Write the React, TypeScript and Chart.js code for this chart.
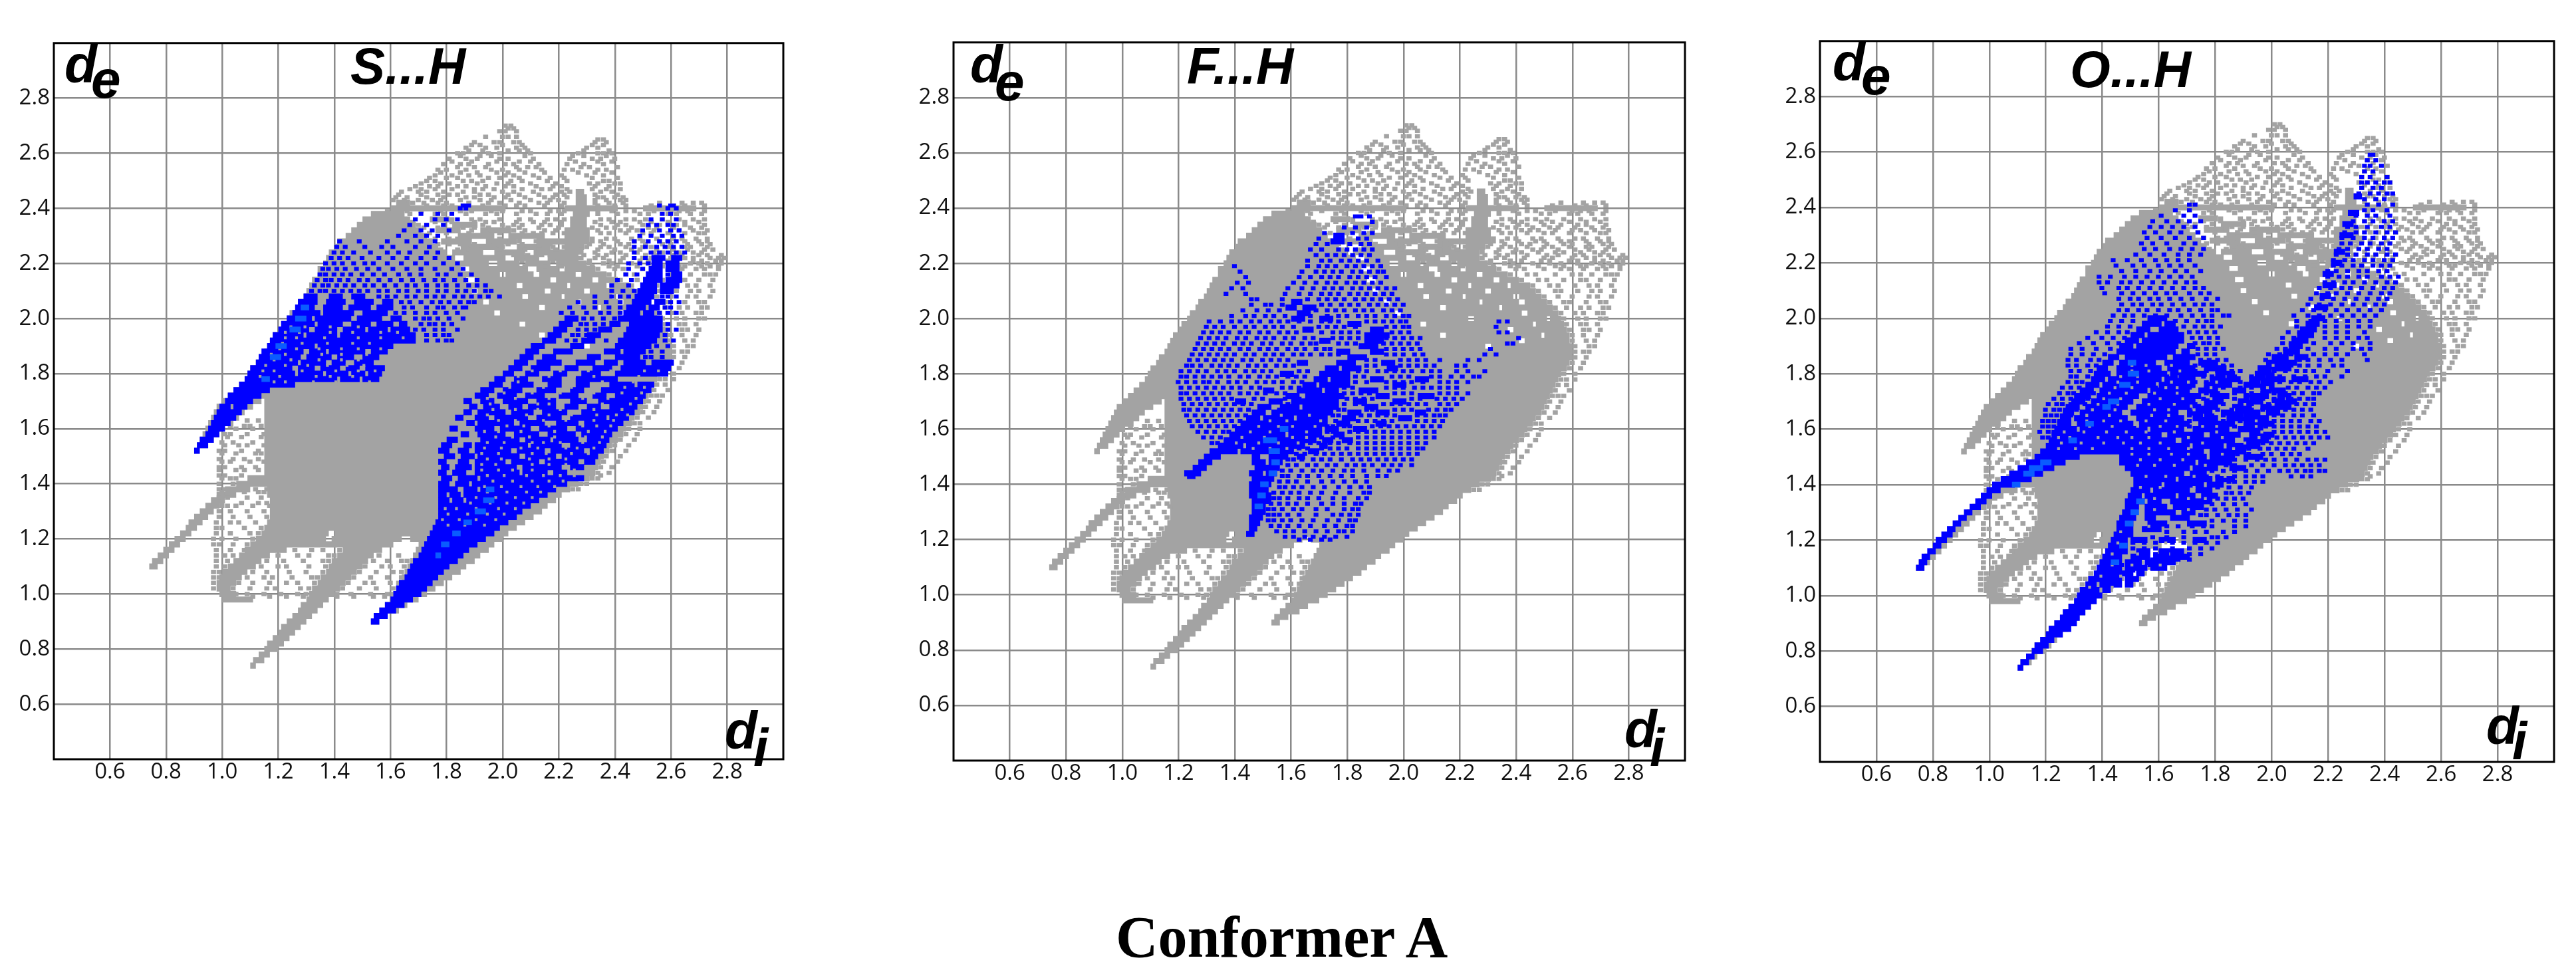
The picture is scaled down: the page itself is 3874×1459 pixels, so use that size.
import { useEffect, useRef } from "react";
import { Chart, registerables } from "chart.js";

Chart.register(...registerables);

// All distances in hundredths of an angstrom (bin size 0.01).
// Band rows: [de, diStart, diEnd, diStart, diEnd, ...]; cell rows: [de, di, di, ...]
const tickValues = [0.6, 0.8, 1.0, 1.2, 1.4, 1.6, 1.8, 2.0, 2.2, 2.4, 2.6, 2.8];
const panelTitles = ["S...H", "F...H", "O...H"];

const grayBands = [
  [74, 110, 111], [76, 111, 114], [78, 113, 116], [80, 115, 119], [82, 116, 121], [84, 118, 123],
  [86, 120, 125], [88, 121, 127], [90, 123, 129, 153, 155], [92, 125, 131, 154, 158],
  [94, 127, 133, 156, 162], [96, 128, 135, 158, 165], [98, 100, 110, 130, 137, 160, 169],
  [100, 99, 104, 131, 139, 161, 172], [102, 98, 102, 132, 141, 162, 175], [104, 98, 104, 134, 143, 163, 178],
  [106, 99, 106, 135, 145, 164, 181], [108, 100, 108, 137, 147, 165, 184],
  [110, 74, 76, 102, 111, 138, 149, 166, 186], [112, 75, 78, 104, 113, 139, 151, 167, 189],
  [114, 77, 80, 106, 116, 141, 153, 168, 191], [116, 79, 82, 108, 122, 143, 156, 169, 194],
  [118, 81, 84, 110, 160, 170, 196], [120, 83, 86, 112, 136, 139, 163, 167, 199],
  [122, 85, 88, 114, 137, 140, 201], [124, 87, 90, 115, 204], [126, 88, 92, 116, 207], [128, 90, 94, 117, 210],
  [130, 92, 96, 117, 213], [132, 94, 98, 117, 215], [134, 96, 100, 117, 218], [136, 98, 104, 116, 220],
  [138, 101, 109, 116, 223], [140, 105, 226], [142, 109, 230], [144, 115, 232], [146, 115, 233],
  [148, 115, 234], [150, 115, 235], [152, 90, 91, 115, 237], [154, 91, 94, 115, 238], [156, 92, 96, 115, 240],
  [158, 93, 98, 115, 242], [160, 94, 100, 115, 243], [162, 95, 103, 115, 245], [164, 96, 105, 115, 246],
  [166, 97, 107, 115, 248], [168, 98, 110, 115, 249], [170, 100, 113, 115, 250], [172, 102, 251],
  [174, 104, 252], [176, 106, 253], [178, 108, 254], [180, 109, 255], [182, 110, 257], [184, 112, 258],
  [186, 113, 259], [188, 115, 259], [190, 116, 228, 231, 259], [192, 117, 240, 243, 258],
  [194, 118, 212, 215, 248, 250, 258], [196, 120, 236, 239, 257], [198, 121, 205, 208, 245, 247, 256],
  [200, 123, 222, 225, 250, 252, 255], [202, 124, 196, 199, 241, 244, 254], [204, 126, 212, 215, 233, 235, 252],
  [206, 127, 192, 195, 226, 228, 240, 243, 250], [208, 129, 206, 209, 220, 222, 238, 241, 248],
  [210, 130, 188, 191, 214, 217, 228, 231, 246], [212, 131, 204, 207, 222, 224, 236, 238, 244],
  [214, 132, 186, 190, 216, 219, 231, 234, 240], [216, 134, 198, 201, 210, 213, 225, 228, 236],
  [218, 134, 184, 188, 208, 212, 219, 222, 232], [220, 136, 194, 198, 205, 208, 216, 219, 229],
  [222, 137, 182, 186, 200, 204, 212, 216, 226], [224, 138, 179, 182, 192, 197, 207, 211, 226],
  [226, 140, 176, 185, 199, 205, 216, 222, 228], [228, 141, 174, 178, 188, 194, 204, 212, 230],
  [230, 144, 172, 184, 196, 202, 214, 222, 230], [232, 146, 170, 176, 184, 192, 202, 222, 230],
  [234, 148, 168, 182, 190, 224, 229], [236, 150, 166, 174, 180, 224, 229],
  [238, 153, 164, 225, 230], [240, 160, 200, 222, 240, 250, 268], [242, 162, 166, 226, 229],
  [244, 226, 229], [246, 226, 228],
];

const grayCells = [
  [270, 200, 202], [269, 201, 203], [268, 198, 200, 204], [266, 193, 199, 201, 204],
  [265, 233, 235], [264, 189, 196, 198, 203, 205, 232, 236],
  [263, 188, 191, 199, 206, 231, 235], [262, 186, 193, 197, 204, 207, 229, 233],
  [261, 187, 192, 201, 205, 208, 228, 237], [260, 183, 185, 194, 198, 209, 226, 233, 235, 238],
  [259, 184, 191, 195, 207, 224, 228, 236],
  [258, 180, 186, 190, 198, 201, 210, 223, 231, 234, 239],
  [257, 181, 188, 197, 205, 209, 225, 233, 238],
  [256, 178, 184, 187, 194, 200, 203, 212, 222, 228, 235],
  [255, 183, 189, 193, 204, 208, 211, 227, 230, 240],
  [254, 176, 179, 186, 195, 199, 205, 213, 221, 224, 233, 236],
  [253, 177, 184, 190, 197, 201, 207, 214, 226, 232, 238],
  [252, 175, 181, 187, 191, 200, 203, 210, 220, 229, 235],
  [251, 173, 179, 183, 194, 198, 205, 212, 216, 221, 231, 240],
  [250, 172, 175, 185, 188, 192, 202, 206, 215, 222, 235, 237],
  [249, 170, 177, 180, 190, 197, 201, 209, 218, 230, 233, 239, 241],
  [248, 168, 173, 176, 183, 186, 193, 200, 203, 211, 217, 220, 232, 237],
  [247, 166, 170, 175, 181, 189, 192, 196, 206, 213, 216, 222, 231, 236, 241],
  [246, 163, 169, 172, 178, 185, 189, 199, 203, 210, 220, 223, 234, 238],
  [245, 162, 170, 176, 180, 183, 191, 194, 201, 205, 212, 218, 221, 232, 240],
  [244, 161, 165, 172, 178, 186, 189, 196, 200, 207, 214, 217, 222, 233, 235, 239, 242],
  [243, 160, 164, 169, 174, 177, 184, 191, 195, 202, 209, 216, 219, 232, 236, 241, 243],
  [242, 167, 171, 176, 179, 187, 194, 198, 205, 212, 215, 221, 232, 237, 242, 255, 263, 267, 270],
  [241, 172, 178, 181, 185, 192, 200, 204, 207, 214, 220, 233, 239, 243, 252, 260, 264, 271],
  [239, 158, 165, 170, 177, 184, 188, 195, 199, 206, 209, 216, 219, 221, 233, 238, 243, 246, 253, 259, 262, 265, 271],
  [238, 166, 175, 178, 186, 193, 197, 204, 211, 215, 220, 233, 240, 248, 251, 258, 261, 266, 270],
  [236, 181, 188, 191, 198, 205, 209, 215, 218, 221, 234, 237, 243, 246, 250, 256, 262, 267, 271],
  [235, 167, 175, 181, 189, 193, 196, 204, 210, 214, 220, 232, 238, 241, 248, 252, 258, 264, 269],
  [234, 169, 172, 178, 186, 192, 199, 203, 206, 213, 216, 220, 234, 240, 243, 249, 255, 261, 264, 271],
  [233, 171, 176, 185, 189, 194, 201, 205, 212, 219, 231, 236, 239, 245, 251, 254, 260, 266, 270],
  [232, 177, 181, 188, 195, 199, 203, 207, 214, 218, 233, 241, 244, 247, 253, 259, 262, 267, 272],
  [231, 173, 179, 187, 193, 198, 206, 210, 213, 217, 221, 234, 237, 243, 249, 252, 258, 264, 269, 271],
  [229, 175, 180, 183, 187, 195, 198, 205, 231, 236, 239, 245, 248, 254, 260, 263, 268, 272],
  [228, 195, 200, 205, 211, 231, 234, 240, 246, 249, 255, 258, 264, 269, 272],
  [227, 176, 180, 184, 189, 196, 201, 206, 212, 216, 230, 235, 241, 244, 250, 256, 259, 265, 270, 273],
  [226, 186, 190, 194, 199, 217, 221, 229, 234, 237, 243, 249, 252, 258, 264, 266, 272],
  [225, 177, 183, 187, 191, 198, 207, 212, 218, 227, 233, 239, 245, 248, 254, 260, 265, 271, 274],
  [224, 183, 188, 191, 201, 204, 212, 227, 232, 238, 241, 247, 253, 256, 262, 267, 270],
  [223, 187, 198, 203, 208, 213, 216, 228, 233, 236, 243, 250, 254, 260, 263, 269, 272, 277],
  [222, 227, 232, 235, 242, 249, 252, 259, 264, 267, 273, 276, 278],
  [221, 199, 206, 211, 217, 230, 237, 241, 248, 251, 258, 261, 267, 270, 275, 277],
  [220, 230, 235, 238, 245, 251, 255, 261, 266, 269, 272, 277],
  [219, 207, 214, 220, 231, 237, 240, 247, 253, 256, 262, 264, 270, 273, 276],
  [218, 233, 239, 242, 249, 255, 258, 263, 268, 271, 276],
  [216, 237, 243, 246, 253, 259, 262, 266, 271, 273, 275],
  [214, 241, 247, 250, 256, 262, 264, 269, 274],
  [212, 245, 251, 254, 260, 265, 268, 273],
  [210, 247, 253, 255, 261, 266, 269, 274],
  [208, 249, 254, 259, 265, 268, 273],
  [206, 251, 256, 258, 264, 269, 271],
  [204, 253, 257, 262, 265, 270, 272],
  [202, 255, 260, 263, 268, 270],
  [200, 256, 261, 264, 269, 271],
  [198, 257, 262, 264, 268],
  [196, 258, 263, 265, 269],
  [194, 259, 263, 268], [192, 259, 264, 267], [190, 260, 265, 267], [188, 260, 263, 265], [186, 260, 264],
  [184, 259, 263], [182, 258, 262], [180, 256, 260], [178, 255, 257, 260], [176, 254, 257],
  [174, 253, 258], [172, 252, 254, 256], [170, 251, 255], [168, 250, 254], [166, 249, 253],
  [164, 247, 251], [162, 246, 248], [160, 244, 248], [158, 243, 247], [156, 241, 246],
  [154, 239, 244], [152, 238, 243], [150, 236, 241], [148, 235, 240], [146, 234, 238],
  [144, 233, 237], [143, 231, 234], [142, 231, 233], [140, 227, 229], [138, 224, 226],
  // left box and the two pale holes under the core
  [163, 108, 112], [161, 102, 107, 109, 113], [160, 104, 110], [158, 100, 102, 108, 114], [157, 101, 106, 113],
  [155, 99, 103, 110], [154, 100, 105, 108, 114], [152, 98, 100, 106, 112], [151, 99, 104, 111, 113],
  [149, 98, 103, 107, 112], [148, 99, 102, 109, 114], [146, 98, 100, 106, 111], [145, 98, 104, 107, 112],
  [143, 98, 100, 106], [142, 99, 102, 104], [140, 98, 103], [138, 98, 100, 111, 115], [137, 99, 107, 112, 114],
  [135, 98, 101, 108, 113], [133, 99, 106, 112, 115], [132, 99, 101, 104, 110, 116], [130, 98, 102, 108, 114],
  [128, 98, 103, 109, 115], [126, 97, 102, 105, 111], [124, 97, 99, 107, 113], [122, 97, 102, 109, 112],
  [120, 96, 99, 104, 110], [118, 96, 98, 103, 108], [116, 97, 102, 107, 125, 131, 135, 141],
  [114, 97, 100, 103, 119, 126, 130, 137, 139, 155, 162],
  [112, 97, 101, 115, 121, 128, 135, 137, 153, 158, 163, 165],
  [110, 97, 100, 113, 119, 122, 130, 136, 150, 156, 159, 164],
  [108, 96, 98, 110, 115, 123, 129, 135, 148, 154, 160, 163],
  [106, 96, 98, 108, 114, 117, 124, 131, 133, 146, 152, 158, 163],
  [104, 96, 105, 110, 116, 122, 126, 132, 144, 150, 153, 159, 162],
  [102, 96, 103, 109, 115, 118, 127, 130, 142, 148, 154, 160],
  [100, 104, 108, 114, 120, 126, 129, 140, 145, 152, 158, 160],
  [99, 110, 116, 122, 128, 140, 146, 153, 157],
];

const sulfurBands = [
  [90, 153, 155], [92, 154, 158], [94, 156, 161], [96, 158, 164], [98, 160, 167], [100, 161, 170], [102, 162, 172],
  [104, 163, 174], [106, 165, 176], [108, 166, 178], [110, 167, 180], [112, 168, 183], [114, 170, 185], [116, 171, 187],
  [118, 172, 190], [120, 173, 193], [122, 174, 196], [124, 175, 198], [126, 176, 201], [128, 177, 204], [130, 177, 206],
  [132, 177, 209], [134, 177, 180, 182, 185, 187, 212], [136, 177, 179, 181, 184, 186, 215], [138, 177, 183, 186, 190, 192, 218],
  [140, 177, 180, 183, 187, 189, 222], [142, 178, 181, 184, 190, 192, 228], [144, 177, 179, 182, 186, 190, 205, 207, 215, 218, 222],
  [146, 178, 180, 183, 188, 190, 204, 207, 220, 224, 228], [148, 177, 179, 184, 187, 190, 200, 203, 212, 215, 226, 229, 232],
  [150, 179, 182, 185, 189, 191, 205, 208, 218, 221, 233], [152, 90, 91, 177, 180, 184, 187, 190, 202, 205, 214, 217, 228, 231, 235],
  [154, 91, 94, 178, 181, 186, 188, 190, 208, 210, 220, 224, 236], [156, 92, 96, 180, 183, 192, 205, 208, 216, 218, 226, 230, 237],
  [158, 94, 98, 185, 187, 191, 200, 204, 212, 216, 225, 228, 238], [160, 95, 100, 181, 183, 190, 196, 199, 209, 213, 222, 226, 240],
  [162, 96, 102, 187, 189, 191, 203, 206, 214, 219, 226, 229, 242], [164, 97, 104, 183, 185, 190, 194, 197, 208, 212, 220, 224, 236, 238, 244],
  [166, 98, 101, 102, 106, 186, 188, 191, 200, 203, 210, 214, 222, 228, 246],
  [168, 99, 102, 104, 108, 188, 190, 193, 198, 202, 206, 209, 218, 222, 226, 230, 234, 238, 247],
  [170, 101, 104, 105, 110, 186, 188, 192, 196, 200, 208, 212, 218, 224, 229, 234, 249],
  [172, 102, 106, 107, 113, 190, 194, 198, 204, 208, 214, 220, 226, 232, 236, 240, 250],
  [174, 104, 108, 109, 116, 192, 196, 200, 206, 212, 218, 224, 228, 235, 252],
  [176, 106, 125, 195, 199, 203, 210, 216, 220, 226, 230, 238, 246, 248, 253],
  [178, 108, 128, 129, 140, 142, 148, 150, 155, 197, 200, 204, 208, 214, 220, 226, 240, 255],
  [180, 109, 125, 127, 135, 137, 144, 146, 150, 152, 156, 200, 203, 208, 212, 218, 222, 228, 234, 240, 258],
  [182, 110, 124, 127, 132, 135, 141, 144, 148, 151, 157, 202, 206, 210, 216, 222, 226, 232, 238, 242, 259],
  [184, 112, 126, 128, 136, 139, 143, 147, 153, 204, 208, 212, 220, 226, 232, 236, 240, 243, 250, 253, 260],
  [186, 113, 127, 130, 138, 141, 146, 150, 155, 206, 210, 214, 218, 230, 234, 240, 248],
  [188, 114, 128, 131, 136, 138, 150, 153, 158, 208, 212, 218, 224, 236, 241, 243, 250],
  [190, 116, 132, 134, 160, 210, 214, 224, 228, 240, 252], [192, 117, 130, 131, 168, 214, 218, 228, 232, 241, 254],
  [194, 118, 128, 130, 140, 142, 168, 216, 220, 230, 234, 243, 255], [196, 120, 130, 133, 140, 143, 150, 152, 158, 160, 166, 218, 222, 234, 238, 244, 256],
  [198, 121, 132, 134, 142, 146, 152, 155, 160, 163, 165, 220, 224, 238, 241, 245, 256], [200, 123, 131, 133, 145, 148, 156, 160, 163, 222, 226, 241, 256],
  [202, 125, 134, 136, 146, 150, 158, 243, 248, 250, 253], [204, 126, 132, 136, 142, 145, 152, 155, 160, 244, 250, 252, 255],
  [206, 127, 133, 137, 143, 147, 153, 157, 160, 246, 252, 254, 257], [208, 129, 133, 138, 142, 146, 150, 247, 253],
  [210, 248, 254, 256, 260], [212, 249, 254, 256, 262], [214, 250, 256, 258, 263], [216, 251, 256, 260, 263],
  [218, 252, 256, 258, 262], [220, 253, 256, 258, 262], [222, 253, 257, 260, 263],
];

const sulfurCells = [
  [241, 185, 186, 187, 255, 259, 260], [240, 184, 186, 258, 261], [238, 170, 176, 181, 256, 259], [236, 168, 175, 179, 183, 252, 256, 261],
  [234, 166, 172, 178, 251, 254, 258, 260], [232, 164, 170, 174, 180, 249, 255, 259, 262], [230, 162, 168, 172, 176, 248, 252, 256, 260, 263],
  [228, 141, 148, 158, 165, 170, 175, 246, 251, 255, 258, 261], [226, 140, 143, 150, 156, 160, 168, 173, 246, 250, 254, 257, 260, 263],
  [224, 139, 142, 146, 152, 158, 162, 166, 172, 176, 246, 252, 255, 258, 261, 264],
  [222, 138, 141, 144, 149, 155, 160, 165, 170, 175, 180, 246, 250],
  [220, 136, 139, 142, 146, 150, 153, 158, 163, 168, 172, 178, 183, 244, 248, 251],
  [218, 135, 137, 140, 143, 147, 151, 155, 160, 165, 170, 175, 181, 185, 244, 249],
  [216, 134, 136, 139, 142, 145, 149, 153, 157, 162, 166, 170, 176, 179, 184, 188, 243, 247],
  [214, 133, 136, 138, 141, 144, 148, 151, 155, 159, 163, 167, 171, 175, 178, 182, 186, 190, 240, 245],
  [212, 132, 135, 137, 140, 143, 146, 150, 153, 157, 161, 165, 168, 172, 176, 179, 183, 187, 190, 193, 238, 244],
  [210, 131, 134, 136, 139, 142, 145, 148, 151, 155, 158, 162, 165, 169, 172, 176, 179, 183, 186, 189, 193, 195, 238, 242, 246],
  [208, 155, 158, 161, 165, 168, 172, 175, 178, 182, 185, 188, 191, 194, 198, 232, 238, 241, 244],
  [206, 163, 166, 170, 174, 177, 180, 184, 187, 189, 226, 232, 236, 241],
  [204, 164, 167, 172, 176, 178, 182, 185, 186, 223, 228, 232, 237, 241],
  [202, 161, 164, 168, 172, 175, 179, 183, 220, 224, 229, 234, 237, 241],
  [200, 168, 171, 173, 176, 180, 185, 228, 231, 235, 239],
  [198, 170, 173, 175, 178, 181, 227, 229, 232, 235],
  [196, 168, 171, 175, 178, 183, 226, 229, 232],
  [194, 172, 175, 178, 180, 224, 226, 229],
  [192, 172, 176, 179, 181, 222, 225, 236],
  [216, 252, 255, 258], [208, 256, 258, 261], [206, 259, 262], [204, 257, 259], [202, 255, 258, 261],
  [198, 258], [196, 258, 261], [194, 257], [192, 257, 260], [190, 254, 258], [188, 252, 256], [186, 250, 252, 256], [184, 255, 257],
];

// gray pinholes that show through the blue
const sulfurGaps = [
  [125, 180, 186, 193], [127, 178, 184, 190, 197], [129, 180, 187, 194, 200], [131, 179, 183, 190, 198, 204],
  [133, 188, 195, 201, 207], [135, 190, 197, 204, 210], [137, 194, 201, 208, 213], [139, 193, 199, 206, 212, 218],
  [141, 196, 203, 210, 216, 221], [143, 194, 200, 208, 214, 220, 225], [145, 192, 198, 203, 210, 225],
  [147, 192, 197, 210, 216, 222], [149, 194, 199, 209, 216, 222], [151, 192, 198, 210, 215, 224, 230],
  [153, 193, 199, 206, 212, 222, 226, 232], [155, 194, 200, 210, 214, 220, 228, 234], [157, 197, 203, 209, 218, 229, 235],
  [159, 193, 198, 206, 218, 230, 236], [161, 201, 207, 216, 228, 233, 238], [163, 198, 204, 214, 222, 232, 239],
  [165, 194, 208, 216, 224, 233, 240, 244], [167, 196, 204, 212, 220, 232, 242], [169, 195, 212, 216, 235, 245],
  [171, 194, 204, 216, 228, 237, 247], [173, 200, 210, 220, 232, 242, 249], [175, 202, 214, 224, 234, 243, 250],
  [177, 205, 212, 222, 235, 246], [179, 205, 216, 225, 232, 248], [181, 210, 220, 230, 238, 250, 255],
  [177, 118, 122, 132, 140, 152], [179, 113, 120, 133, 138, 146], [181, 114, 118, 128, 140, 148, 154],
  [183, 115, 122, 130, 137, 144, 150], [185, 118, 124, 134, 142, 148], [187, 117, 122, 135, 142, 151],
  [189, 120, 126, 134, 142, 148, 156], [191, 121, 128, 137, 146, 152], [193, 122, 126, 136, 148, 156, 164],
  [195, 122, 127, 138, 146, 156, 162], [197, 124, 129, 138, 148],
];

const sulfurHot = [
  [204, 128, 130], [200, 126, 129], [196, 124, 127], [190, 119, 122], [186, 117, 120], [178, 114, 116],
  [138, 194, 196], [134, 193, 196], [130, 190, 193], [126, 186, 188], [122, 182, 184], [118, 178, 180], [114, 176, 177],
];

const fluorineBands = [
  [122, 144, 146], [124, 145, 147], [126, 145, 148], [128, 145, 149], [130, 146, 150], [132, 146, 150],
  [134, 146, 152], [136, 145, 152], [138, 145, 151], [140, 145, 152], [142, 146, 153], [143, 123, 125],
  [144, 122, 127, 145, 149, 151, 154], [146, 125, 129, 147, 155], [148, 127, 131, 146, 150, 152, 156],
  [150, 129, 134, 146, 148, 152, 158, 162, 164], [152, 131, 140, 142, 160, 166, 169], [154, 134, 142, 144, 164, 170, 172],
  [156, 136, 168, 171, 174, 178, 181], [158, 138, 157, 159, 170, 175, 178], [160, 140, 170, 172, 176, 182, 186],
  [162, 142, 172, 176, 180, 190, 193], [164, 144, 148, 150, 160, 162, 172, 178, 182, 198, 202],
  [166, 146, 150, 153, 174, 180, 184, 190, 194, 204, 207], [168, 148, 152, 156, 162, 164, 176, 186, 190],
  [170, 140, 143, 152, 156, 160, 176, 182, 186, 196, 200], [172, 158, 162, 165, 178, 190, 194, 205, 210],
  [174, 150, 153, 162, 170, 172, 176, 184, 190], [176, 164, 168, 170, 180, 196, 200], [178, 168, 172, 174, 180, 188, 192, 204, 208],
  [180, 156, 160, 170, 180], [182, 172, 176, 178, 184, 194, 197], [184, 162, 165, 176, 182, 192, 196], [186, 180, 186],
  [188, 176, 180, 188, 192], [190, 184, 190], [192, 170, 173, 186, 192], [194, 186, 194], [196, 164, 167, 188, 192],
  [198, 180, 184], [200, 160, 164, 170, 174], [202, 162, 166], [204, 158, 161, 164, 168],
  [206, 160, 163], [228, 174, 178], [230, 175, 178],
];

const fluorineCells = [
  [237, 182, 183, 184, 187], [235, 188], [233, 178, 182, 186], [231, 171, 181, 185, 188], [229, 169, 183, 186],
  [227, 168, 172, 180, 184, 187], [225, 166, 170, 176, 179, 182, 185, 188], [223, 168, 172, 175, 178, 181, 184, 187],
  [221, 165, 170, 173, 177, 180, 183, 186, 190], [219, 139, 165, 169, 172, 175, 179, 182, 185, 188, 191],
  [217, 141, 163, 168, 171, 174, 177, 181, 184, 187, 190, 192], [215, 143, 162, 166, 170, 173, 176, 180, 183, 186, 189, 193],
  [213, 140, 144, 160, 164, 168, 172, 175, 179, 182, 185, 188, 191],
  [211, 138, 142, 158, 163, 167, 171, 174, 177, 181, 184, 187, 190, 193, 196],
  [209, 136, 143, 157, 162, 166, 170, 173, 176, 180, 183, 186, 189, 192, 195],
  [207, 145, 147, 156, 165, 169, 172, 175, 178, 182, 185, 188, 191, 194, 197],
  [205, 145, 150, 152, 156, 170, 173, 177, 180, 183, 187, 190, 193, 196, 199],
  [203, 142, 147, 151, 155, 168, 172, 175, 178, 182, 185, 188, 192, 195, 198],
  [201, 138, 143, 146, 150, 153, 157, 166, 172, 176, 179, 183, 186, 189, 193, 196, 199, 201],
  [199, 130, 134, 138, 141, 145, 148, 152, 155, 158, 162, 166, 170, 173, 176, 186, 189, 192, 195, 198, 200, 233, 236],
  [197, 129, 132, 135, 139, 143, 146, 150, 153, 156, 160, 169, 172, 175, 178, 182, 193, 196, 199, 201, 232],
  [195, 128, 131, 134, 137, 141, 144, 148, 151, 155, 158, 161, 170, 174, 177, 180, 183, 195, 198, 201, 233, 236],
  [193, 127, 130, 133, 136, 140, 143, 147, 150, 153, 157, 160, 164, 167, 174, 177, 180, 183, 193, 196, 199, 202, 205, 240],
  [191, 126, 129, 132, 135, 139, 142, 145, 149, 152, 156, 159, 163, 166, 168, 176, 179, 182, 192, 195, 198, 201, 204, 236, 238],
  [189, 125, 128, 131, 134, 137, 141, 144, 148, 151, 154, 158, 161, 164, 168, 171, 173, 193, 196, 199, 202, 205, 230],
  [187, 124, 127, 130, 133, 136, 139, 143, 146, 150, 153, 156, 160, 163, 166, 170, 173, 176, 193, 196, 199, 203, 206, 228, 232],
  [185, 123, 126, 129, 132, 135, 138, 142, 145, 149, 152, 155, 158, 186, 189, 198, 201, 204, 207, 212, 222, 226],
  [183, 122, 124, 127, 131, 134, 137, 140, 144, 147, 150, 154, 157, 160, 186, 189, 198, 201, 204, 207, 210, 218, 221],
  [181, 120, 123, 126, 129, 133, 136, 139, 143, 146, 149, 152, 162, 165, 183, 186, 190, 193, 196, 199, 202, 206, 209, 212, 218, 222, 228],
  [179, 120, 122, 125, 128, 131, 134, 137, 141, 144, 148, 151, 154, 158, 161, 164, 182, 185, 195, 198, 201, 209, 212, 216, 220, 224, 226],
  [177, 119, 122, 125, 128, 130, 133, 137, 140, 143, 147, 150, 153, 156, 160, 163, 182, 186, 193, 196, 199, 202, 206, 212, 215, 218, 222],
  [175, 120, 123, 126, 129, 132, 135, 138, 141, 145, 148, 156, 159, 162, 178, 181, 193, 196, 199, 203, 206, 209, 212, 215, 218],
  [173, 120, 122, 125, 128, 131, 134, 137, 141, 144, 147, 150, 154, 157, 178, 181, 184, 187, 196, 199, 202, 212, 215, 218, 222],
  [171, 120, 123, 126, 129, 132, 135, 138, 146, 149, 157, 162, 165, 179, 182, 185, 188, 202, 205, 211, 214, 217, 220],
  [169, 121, 124, 127, 130, 133, 136, 139, 142, 145, 158, 161, 178, 182, 185, 192, 195, 198, 201, 204, 207, 212, 215, 218],
  [167, 121, 123, 126, 129, 132, 135, 138, 141, 144, 155, 176, 178, 186, 188, 196, 199, 202, 208, 211, 214, 216],
  [165, 122, 125, 128, 131, 134, 137, 140, 143, 174, 176, 184, 187, 190, 193, 196, 204, 207, 210, 212, 214],
  [163, 123, 126, 129, 132, 135, 138, 141, 175, 178, 183, 186, 189, 192, 195, 204, 207, 210, 213],
  [161, 124, 127, 130, 133, 136, 139, 172, 174, 178, 180, 188, 191, 194, 197, 200, 203, 206, 209, 212],
  [159, 126, 129, 132, 135, 137, 172, 174, 180, 183, 186, 189, 192, 195, 198, 201, 204, 207, 210],
  [157, 128, 131, 134, 170, 174, 177, 183, 186, 189, 192, 195, 198, 201, 204, 207, 210],
  [155, 131, 133, 166, 169, 173, 176, 180, 183, 186, 189, 192, 195, 198, 201, 204, 207],
  [153, 162, 165, 170, 173, 176, 179, 183, 186, 189, 192, 195, 198, 201, 204, 206],
  [151, 161, 164, 168, 171, 174, 177, 180, 183, 186, 189, 192, 195, 198, 201, 204],
  [149, 158, 160, 163, 167, 170, 173, 177, 181, 184, 187, 190, 193, 196, 199, 202],
  [147, 158, 161, 165, 168, 172, 175, 179, 182, 185, 188, 192, 195, 198, 202],
  [145, 156, 159, 163, 167, 170, 174, 178, 181, 185, 190, 194, 197],
  [143, 156, 158, 162, 165, 169, 173, 177, 181, 186, 190, 193],
  [141, 155, 158, 161, 165, 170, 174, 178, 182, 186],
  [139, 155, 157, 160, 163, 167, 171, 176, 180, 184, 187],
  [137, 153, 156, 159, 162, 166, 170, 175, 180, 185, 187],
  [135, 153, 155, 158, 162, 165, 169, 174, 178, 183, 186],
  [133, 152, 155, 158, 161, 165, 170, 174, 178, 182, 184],
  [131, 151, 153, 156, 160, 163, 168, 172, 178, 181, 183],
  [129, 151, 153, 155, 158, 162, 168, 174, 177, 180, 183],
  [127, 151, 153, 156, 159, 163, 167, 172, 176, 180, 182],
  [125, 152, 155, 158, 162, 166, 171, 175, 179, 181],
  [123, 154, 157, 160, 164, 168, 172, 176, 178, 181],
  [121, 157, 160, 164, 167, 171, 175, 179],
  [120, 162, 166, 170, 173],
];

const fluorineGaps = [
  [153, 146, 152, 158], [155, 140, 148, 155, 162], [157, 142, 150, 160, 165], [159, 145, 152, 165],
  [161, 148, 155, 160, 168], [163, 152, 158, 170], [165, 156, 166],
];

const fluorineHot = [
  [156, 150, 154], [152, 152, 155], [148, 153, 155], [144, 152, 154], [140, 149, 151], [136, 148, 150], [132, 147, 149], [160, 156, 158],
];

const oxygenBands = [
  [74, 110, 111], [76, 111, 113], [78, 113, 115], [80, 115, 118], [82, 116, 120], [84, 118, 122], [86, 120, 123, 124, 125],
  [88, 121, 128], [90, 123, 130], [92, 125, 131], [94, 126, 128, 129, 133], [96, 128, 130, 131, 135], [98, 130, 132, 133, 137],
  [100, 131, 139], [102, 132, 138, 140, 142], [104, 134, 137, 139, 146, 148, 150], [106, 135, 146, 148, 152],
  [108, 137, 144, 145, 150, 152, 154], [110, 74, 76, 138, 146, 148, 155, 157, 162], [112, 75, 77, 139, 146, 148, 153, 155, 165],
  [114, 76, 78, 140, 146, 150, 156, 158, 170], [116, 78, 80, 141, 148, 152, 156, 160, 168], [118, 80, 82, 142, 148],
  [120, 81, 84, 143, 148, 150, 155, 160, 165, 172, 176], [122, 83, 86, 144, 150], [124, 85, 87, 145, 150, 154, 160],
  [126, 87, 89, 145, 150, 156, 162, 170, 176], [128, 89, 91, 146, 151, 155, 158, 164, 170], [130, 91, 93, 147, 151, 155, 165, 168, 172],
  [132, 93, 96, 148, 152, 155, 162, 165, 175], [134, 95, 98, 148, 154, 156, 160, 164, 178], [136, 97, 100, 149, 153, 155, 165, 167, 172, 175, 180],
  [138, 99, 103, 150, 156, 158, 170, 173, 178], [140, 101, 108, 151, 160, 162, 175, 177, 182], [142, 104, 114, 151, 165, 167, 178, 180, 186],
  [144, 107, 118, 150, 168, 171, 176], [146, 110, 122, 148, 170, 172, 180, 185, 190], [148, 113, 126, 146, 172, 174, 185],
  [150, 116, 131, 146, 176, 178, 186, 190, 196], [152, 118, 175, 178, 190], [154, 120, 170, 172, 182, 184, 195],
  [156, 121, 165, 168, 186, 190, 198], [158, 122, 160, 163, 175, 178, 188, 192, 200], [160, 123, 130, 132, 155, 157, 168, 172, 184, 188, 196],
  [162, 124, 128, 131, 150, 153, 170, 174, 186, 190, 200], [164, 125, 128, 130, 148, 152, 168, 172, 180, 184, 198],
  [166, 126, 129, 132, 146, 150, 166, 170, 178, 182, 195, 198, 202], [168, 127, 131, 134, 148, 152, 170, 172, 180, 186, 192, 196, 206],
  [170, 129, 133, 136, 150, 154, 172, 176, 182, 188, 196, 200, 208], [172, 130, 135, 138, 152, 156, 174, 178, 184, 190, 198, 202, 206],
  [174, 132, 136, 139, 155, 157, 170, 174, 180, 186, 190, 196, 204], [176, 134, 138, 140, 158, 160, 172, 176, 185, 190, 200],
  [178, 136, 140, 142, 160, 162, 172, 178, 188, 192, 204, 207, 212], [180, 137, 142, 145, 162, 164, 176, 180, 186, 194, 200],
  [182, 138, 141, 145, 160, 163, 172, 176, 183, 195, 206], [184, 140, 143, 146, 158, 162, 170, 174, 180, 198, 208],
  [186, 142, 145, 148, 162, 165, 172, 200, 205, 208, 212], [188, 145, 165, 168, 170, 204, 209], [190, 146, 150, 152, 166, 170, 172, 206, 210],
  [192, 148, 152, 154, 168, 207, 212], [194, 150, 154, 156, 168, 209, 214], [196, 152, 156, 160, 166, 210, 215], [198, 154, 160, 162, 165, 212, 216],
  [200, 156, 162, 214, 218], [204, 215, 219], [208, 217, 220], [212, 218, 222], [216, 218, 221], [220, 221, 224], [224, 222, 225],
  [230, 224, 228], [234, 225, 228], [238, 227, 230], [244, 229, 231],
];

const oxygenCells = [
  [259, 234, 235], [257, 233, 236], [255, 232, 234, 238], [253, 232, 235], [251, 231, 234, 240], [249, 231, 233, 236, 239, 241], [247, 231, 235, 238],
  [245, 230, 234, 237, 240, 242], [243, 232, 236, 239], [241, 170, 172, 233, 237, 242], [239, 165, 170, 232, 235, 240], [237, 160, 168, 172, 229, 233, 236, 241],
  [235, 157, 162, 166, 170, 174, 228, 232, 235, 239, 242], [233, 156, 160, 164, 168, 172, 226, 229, 233, 238, 241],
  [231, 154, 158, 163, 167, 173, 225, 229, 232, 236, 240, 243], [229, 155, 160, 165, 170, 175, 224, 228, 232, 235, 239, 242],
  [227, 153, 157, 162, 168, 172, 224, 227, 231, 234, 238, 241], [225, 154, 158, 163, 167, 171, 175, 223, 226, 230, 233, 237, 240],
  [223, 151, 156, 161, 166, 170, 174, 222, 226, 229, 233, 236, 240, 243], [221, 143, 148, 153, 158, 162, 166, 170, 221, 225, 228, 232, 235, 239, 242],
  [219, 144, 150, 154, 159, 163, 167, 172, 221, 224, 228, 231, 235, 238, 241], [217, 146, 151, 156, 160, 165, 169, 174, 219, 222, 226, 230, 233, 237, 240],
  [215, 138, 142, 147, 151, 155, 159, 163, 167, 171, 219, 223, 226, 230, 233, 238, 241, 244],
  [213, 138, 141, 146, 149, 153, 157, 161, 165, 169, 172, 218, 221, 225, 228, 232, 236, 240, 243],
  [211, 139, 145, 148, 152, 156, 160, 164, 168, 172, 175, 216, 220, 224, 227, 231, 235, 239, 242],
  [209, 140, 146, 150, 154, 158, 162, 165, 170, 174, 177, 215, 219, 222, 226, 230, 234, 238, 241],
  [207, 145, 149, 152, 156, 159, 163, 167, 171, 176, 180, 213, 217, 221, 225, 229, 233, 237, 240],
  [205, 146, 150, 153, 157, 160, 164, 168, 172, 175, 178, 212, 216, 220, 224, 228, 232, 236, 239],
  [203, 145, 148, 152, 155, 159, 163, 166, 170, 174, 178, 180, 210, 214, 218, 222, 226, 230, 234, 238],
  [201, 143, 147, 150, 154, 158, 162, 167, 171, 175, 178, 182, 184, 207, 212, 216, 220, 224, 228, 232, 236],
  [199, 142, 146, 150, 165, 169, 173, 176, 178, 208, 213, 218, 222, 226, 230, 234],
  [197, 141, 145, 149, 168, 172, 175, 178, 181, 208, 218, 222, 226, 230, 234],
  [195, 137, 141, 145, 148, 170, 173, 176, 179, 205, 209, 218, 222, 226, 232],
  [193, 134, 139, 143, 147, 171, 174, 177, 180, 203, 207, 218, 222, 226, 230, 233],
  [191, 131, 136, 141, 145, 172, 175, 177, 180, 203, 206, 214, 220, 224, 228, 234],
  [189, 128, 132, 137, 142, 173, 176, 179, 182, 201, 204, 212, 218, 222, 228, 231, 234],
  [187, 128, 132, 136, 140, 173, 176, 179, 198, 202, 206, 214, 218, 222, 226, 232],
  [185, 127, 130, 135, 138, 174, 177, 180, 183, 197, 209, 212, 216, 220, 224, 233],
  [183, 127, 130, 134, 137, 172, 175, 179, 182, 185, 206, 209, 212, 216, 221, 224],
  [181, 128, 131, 135, 165, 168, 172, 176, 180, 182, 185, 188, 200, 204, 208, 211, 214, 219, 226],
  [179, 128, 130, 134, 162, 165, 175, 178, 182, 186, 192, 198, 202, 207, 211, 215, 218, 224],
  [177, 127, 130, 132, 162, 172, 176, 181, 188, 192, 196, 202, 206, 209, 213, 216, 220],
  [175, 125, 128, 131, 154, 158, 170, 176, 182, 188, 192, 196, 199, 205, 208, 212, 215, 218],
  [173, 124, 127, 129, 136, 176, 180, 186, 192, 196, 200, 204, 207, 210, 214, 216],
  [171, 122, 125, 128, 134, 175, 180, 186, 192, 196, 200, 203, 206, 209, 212, 214],
  [169, 120, 123, 125, 128, 133, 172, 178, 182, 188, 192, 198, 202, 205, 208, 211, 214],
  [167, 119, 122, 124, 126, 130, 170, 176, 180, 185, 188, 192, 196, 200, 204, 207, 210, 213],
  [165, 119, 121, 123, 125, 128, 170, 174, 178, 182, 186, 190, 193, 200, 203, 207, 210, 214],
  [163, 118, 120, 122, 124, 170, 174, 178, 182, 188, 192, 200, 203, 206, 209, 213, 216],
  [161, 118, 120, 122, 170, 186, 197, 200, 203, 206, 209, 212, 215],
  [159, 117, 120, 122, 200, 203, 206, 209, 212, 215, 218],
  [157, 118, 120, 198, 201, 204, 207, 210, 213, 216, 219],
  [155, 196, 199, 202, 205, 208, 211, 214],
  [153, 191, 195, 198, 201, 204, 207, 212],
  [151, 187, 191, 196, 199, 203, 206, 209],
  [149, 186, 190, 194, 197, 200, 204, 208, 212, 215, 218],
  [147, 183, 186, 192, 196, 200, 204, 207, 210, 213, 216],
  [145, 178, 182, 186, 190, 194, 198, 202, 205, 208, 211, 213, 216, 218],
  [143, 176, 180, 186, 190, 193, 196, 206, 210, 213],
  [141, 184, 186, 190, 193, 196],
  [139, 180, 184, 188, 192],
  [137, 183, 185, 188, 191],
  [135, 180, 183, 186, 189],
  [133, 178, 182, 186, 190],
  [131, 176, 179, 183, 187, 192],
  [129, 174, 176, 180, 184, 187, 190],
  [127, 178, 182, 186, 190],
  [125, 162, 166, 171, 175, 178, 186, 190],
  [123, 162, 168, 172, 176, 182, 186],
  [121, 157, 162, 168, 178, 180, 183],
  [119, 150, 154, 158, 164, 168, 172, 176, 180],
  [117, 150, 154, 158, 164, 170, 174, 178],
  [115, 158, 162, 166, 170, 174],
  [113, 157, 160, 166, 170],
  [111, 146, 152, 156],
  [109, 144, 150],
];

const oxygenGaps = [
  [103, 135, 143], [107, 139, 146], [111, 143, 150, 160], [115, 143, 152, 163], [119, 145, 154, 162], [123, 146], [125, 156],
  [131, 158, 170], [135, 158, 170, 176], [139, 153, 160, 172], [143, 155, 162, 172, 183], [147, 152, 158, 165, 176],
  [149, 153, 160, 168], [151, 150, 156, 164, 170, 182], [153, 124, 130, 136, 150, 156, 163, 170, 186],
  [155, 125, 132, 140, 147, 153, 160, 175, 190], [157, 124, 128, 138, 145, 150, 156, 170, 182, 195],
  [159, 126, 133, 141, 148, 155, 165, 180, 196], [161, 135, 143, 152, 160, 166, 175, 180, 194],
  [163, 134, 140, 146, 155, 162, 178, 194], [165, 134, 142, 157, 163, 175, 190], [167, 136, 144, 158, 163, 172, 186],
  [169, 138, 145, 156, 165, 175, 190, 200], [171, 140, 146, 160, 168, 178, 192, 204], [173, 142, 148, 158, 166, 192, 200],
  [175, 144, 150, 162, 166, 178, 198], [177, 145, 152, 164, 170, 180, 196], [179, 146, 152, 166, 183, 198],
  [181, 150, 156, 167, 190, 200], [183, 150, 155, 164, 200],
];

const oxygenHot = [
  [184, 149, 151], [180, 149, 152], [176, 146, 149], [170, 142, 145], [168, 140, 142], [162, 134, 136], [156, 128, 130],
  [148, 118, 121], [144, 112, 115], [140, 108, 110], [146, 114, 118], [134, 152, 154], [130, 150, 152], [126, 148, 150], [118, 146, 148], [112, 143, 145],
];

const panelBands = [sulfurBands, fluorineBands, oxygenBands];
const panelCells = [sulfurCells, fluorineCells, oxygenCells];
const panelGaps = [sulfurGaps, fluorineGaps, oxygenGaps];
const panelHot = [sulfurHot, fluorineHot, oxygenHot];

// plot box on the page and where its big letters sit (page pixels)
const panelBoxes = [
  { left: 81, top: 45, size: 1097, title: [527, 126], d: [97, 124], e: [137, 147], di: [1090, 1126], i: [1133, 1152] },
  { left: 1434, top: 44, size: 1100, title: [1785, 126], d: [1459, 124], e: [1496, 151], di: [2443, 1124], i: [2481, 1152] },
  { left: 2737, top: 42, size: 1104, title: [3113, 131], d: [2756, 121], e: [2799, 142], di: [3739, 1119], i: [3778, 1142] },
];

const GRAY = "#a3a3a3";
const BLUE = "#0000ff";
const HOT = "#0a5cff";
const AXIS_W = 81;
const PAD_TOP = 6;
const PAD_RIGHT = 6;
const AXIS_H = 44;

// spans of a row become one line piece each, broken up with NaN gaps
const bandPoints = (rows: number[][]) => {
  const pts: { x: number; y: number }[] = [];
  for (const [de, ...di] of rows) {
    for (let i = 0; i + 1 < di.length; i += 2) {
      pts.push({ x: di[i] / 100, y: de / 100 });
      pts.push({ x: (di[i + 1] + 1) / 100, y: de / 100 });
      pts.push({ x: NaN, y: NaN });
    }
  }
  return pts;
};

const cellPoints = (rows: number[][], wide: number) => {
  const pts: { x: number; y: number }[] = [];
  for (const [de, ...di] of rows) {
    for (const v of di) {
      pts.push({ x: v / 100, y: de / 100 });
      pts.push({ x: (v + wide) / 100, y: de / 100 });
      pts.push({ x: NaN, y: NaN });
    }
  }
  return pts;
};

const rowSet = (data: { x: number; y: number }[], color: string, width: number) => ({
  data,
  showLine: true,
  borderColor: color,
  borderWidth: width,
  borderCapStyle: "butt",
  pointRadius: 0,
  spanGaps: false,
  tension: 0,
});

const Panel = ({ index }: { index: number }) => {
  const ref = useRef<HTMLCanvasElement>(null);
  const box = panelBoxes[index];
  const canvasLeft = box.left - AXIS_W;
  const canvasTop = box.top - PAD_TOP;

  useEffect(() => {
    if (!ref.current) return;
    const cell = box.size / 260 + 0.1;

    const letters = {
      id: "letters",
      afterDraw(chart: Chart) {
        const { ctx, chartArea } = chart;
        ctx.save();
        ctx.strokeStyle = "#000";
        ctx.lineWidth = 3;
        ctx.strokeRect(chartArea.left, chartArea.top, chartArea.right - chartArea.left, chartArea.bottom - chartArea.top);
        ctx.fillStyle = "#000";
        ctx.textBaseline = "alphabetic";
        ctx.font = "italic bold 78px 'Liberation Sans'";
        ctx.fillText(panelTitles[index], box.title[0] - canvasLeft, box.title[1] - canvasTop);
        ctx.font = "italic bold 80px 'Liberation Sans'";
        ctx.fillText("d", box.d[0] - canvasLeft, box.d[1] - canvasTop);
        ctx.fillText("e", box.e[0] - canvasLeft, box.e[1] - canvasTop);
        ctx.fillText("d", box.di[0] - canvasLeft, box.di[1] - canvasTop);
        ctx.fillText("i", box.i[0] - canvasLeft, box.i[1] - canvasTop);
        ctx.restore();
      },
    };

    const tickFont = { family: "'Open Sans'", size: 33 };
    // the first dataset is drawn last, so blue goes ahead of gray
    const chart = new Chart(ref.current, {
      type: "scatter",
      data: {
        datasets: [
          rowSet(bandPoints(panelHot[index]), HOT, cell * 2),
          rowSet(cellPoints(panelCells[index], 1.7), BLUE, cell * 1.4),
          rowSet(cellPoints(panelGaps[index], 1), GRAY, cell),
          rowSet(bandPoints(panelBands[index]), BLUE, cell * 2.1),
          rowSet(cellPoints(grayCells, 1.8), GRAY, cell * 1.5),
          rowSet(bandPoints(grayBands), GRAY, cell * 2.1),
        ] as any,
      },
      options: {
        animation: false,
        responsive: false,
        events: [],
        layout: { padding: { top: PAD_TOP, right: PAD_RIGHT } },
        plugins: { legend: { display: false }, tooltip: { enabled: false }, title: { display: false } },
        scales: {
          x: {
            type: "linear",
            min: 0.4,
            max: 3.0,
            afterBuildTicks: (s: any) => {
              s.ticks = tickValues.map((value) => ({ value }));
            },
            afterFit: (s: any) => {
              s.height = AXIS_H;
            },
            grid: { color: "#8a8a8a", lineWidth: 2.5, drawTicks: false },
            border: { display: false },
            ticks: {
              color: "#111",
              font: tickFont,
              padding: 0,
              maxRotation: 0,
              autoSkip: false,
              callback: (v: any) => Number(v).toFixed(1),
            },
          },
          y: {
            type: "linear",
            min: 0.4,
            max: 3.0,
            afterBuildTicks: (s: any) => {
              s.ticks = tickValues.map((value) => ({ value }));
            },
            afterFit: (s: any) => {
              s.width = AXIS_W;
            },
            grid: { color: "#8a8a8a", lineWidth: 2.5, drawTicks: false },
            border: { display: false },
            ticks: {
              color: "#111",
              font: tickFont,
              padding: 6,
              autoSkip: false,
              callback: (v: any) => Number(v).toFixed(1),
            },
          },
        },
      } as any,
      plugins: [letters],
    });

    return () => {
      chart.destroy();
    };
  }, []);

  return (
    <canvas
      ref={ref}
      width={AXIS_W + box.size + PAD_RIGHT}
      height={PAD_TOP + box.size + AXIS_H}
      style={{ position: "absolute", left: canvasLeft, top: canvasTop }}
    />
  );
};

export default function App() {
  return (
    <div style={{ position: "absolute", left: 0, top: 0, width: 3874, height: 1459, background: "#fff", overflow: "hidden" }}>
      {panelBoxes.map((_, i) => (
        <Panel key={i} index={i} />
      ))}
      <div
        style={{
          position: "absolute",
          left: 1678,
          top: 1359,
          font: "bold 88px 'Liberation Serif'",
          color: "#000",
          whiteSpace: "nowrap",
        }}
      >
        Conformer A
      </div>
    </div>
  );
}
